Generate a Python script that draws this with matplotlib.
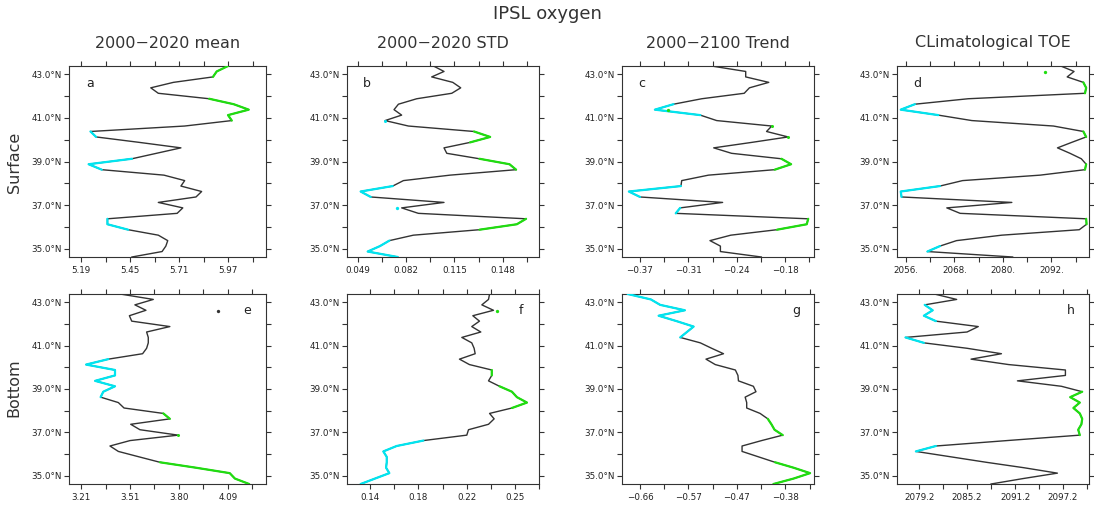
import numpy as np
import matplotlib.pyplot as plt

# latitude grid of the profiles (south -> north)
lat = [34.625, 34.875, 35.125, 35.375, 35.625, 35.875, 36.125, 36.375, 36.625,
       36.875, 37.125, 37.375, 37.625, 37.875, 38.125, 38.375, 38.625, 38.875,
       39.125, 39.375, 39.625, 39.875, 40.125, 40.375, 40.625, 40.875, 41.125,
       41.375, 41.625, 41.875, 42.125, 42.375, 42.625, 42.875, 43.125, 43.375]

# surface
surf_mean = [5.46, 5.62, 5.64, 5.65, 5.60, 5.44, 5.33, 5.33, 5.70, 5.73, 5.60, 5.80,
             5.83, 5.72, 5.74, 5.63, 5.30, 5.23, 5.46, 5.59, 5.72, 5.50, 5.27, 5.24,
             5.74, 5.99, 5.97, 6.08, 6.00, 5.87, 5.60, 5.56, 5.68, 5.89, 5.91, 5.97]
surf_std = [0.0763, 0.0558, 0.0642, 0.0706, 0.0870, 0.1321, 0.1576, 0.1639, 0.0904,
            0.0790, 0.1079, 0.0579, 0.0510, 0.0729, 0.0802, 0.1120, 0.1571, 0.1526,
            0.1321, 0.1098, 0.1079, 0.1257, 0.1394, 0.1284, 0.0836, 0.0677, 0.0790,
            0.0738, 0.0768, 0.0893, 0.1132, 0.1193, 0.1139, 0.0995, 0.1079, 0.1007]
surf_trend = [-0.209, -0.264, -0.264, -0.278, -0.250, -0.188, -0.148, -0.146, -0.324,
              -0.318, -0.261, -0.372, -0.387, -0.317, -0.316, -0.280, -0.191, -0.169,
              -0.182, -0.249, -0.273, -0.222, -0.173, -0.202, -0.195, -0.269, -0.291,
              -0.352, -0.327, -0.289, -0.232, -0.225, -0.199, -0.230, -0.230, -0.276]
surf_toe = [2082.4, 2061.3, 2064.4, 2068.5, 2079.7, 2098.9, 2100.7, 2100.6, 2069.4,
            2066.1, 2082.2, 2054.9, 2054.7, 2064.4, 2070.0, 2089.2, 2100.3, 2100.6,
            2099.4, 2096.6, 2093.5, 2097.0, 2100.6, 2099.9, 2092.5, 2072.3, 2064.0,
            2054.7, 2058.2, 2071.4, 2100.3, 2100.6, 2099.9, 2095.9, 2097.6, 2094.3]

# bottom
bot_mean = [4.218, 4.133, 4.102, 3.900, 3.685, 3.560, 3.436, 3.386, 3.506, 3.794,
            3.565, 3.510, 3.744, 3.705, 3.470, 3.436, 3.330, 3.346, 3.416, 3.297,
            3.416, 3.416, 3.243, 3.376, 3.581, 3.605, 3.615, 3.615, 3.605, 3.744,
            3.516, 3.502, 3.601, 3.535, 3.645, 3.446]
bot_std = [0.1359, 0.1468, 0.1578, 0.1553, 0.1558, 0.1558, 0.1532, 0.1634, 0.1838,
           0.2170, 0.2183, 0.2336, 0.2379, 0.2344, 0.2515, 0.2630, 0.2553, 0.2515,
           0.2420, 0.2336, 0.2361, 0.2361, 0.2190, 0.2114, 0.2234, 0.2226, 0.2208,
           0.2132, 0.2277, 0.2208, 0.2267, 0.2216, 0.2374, 0.2285, 0.2336, 0.2344]
bot_trend = [-0.401, -0.362, -0.330, -0.362, -0.398, -0.430, -0.462, -0.462, -0.424,
             -0.383, -0.399, -0.405, -0.412, -0.427, -0.453, -0.453, -0.456, -0.435,
             -0.440, -0.469, -0.470, -0.475, -0.514, -0.532, -0.498, -0.521, -0.543,
             -0.582, -0.569, -0.556, -0.589, -0.624, -0.573, -0.621, -0.639, -0.684]
bot_toe = [2088.2, 2092.2, 2096.5, 2092.3, 2087.6, 2083.2, 2078.8, 2081.3, 2090.2,
           2099.3, 2099.1, 2099.5, 2099.6, 2099.3, 2098.5, 2099.3, 2098.1, 2099.6,
           2097.0, 2091.5, 2097.5, 2097.5, 2090.4, 2085.7, 2089.5, 2085.2, 2079.8,
           2077.5, 2085.2, 2086.6, 2081.3, 2079.8, 2080.9, 2079.9, 2083.9, 2081.1]

# class of each point: k = normal, c = low (cyan), g = high (green)
surf_mean_cls = "kkkkkccckkkkkkkkccckkkcckgggggkkkggg"
surf_std_cls = "cccckgggkkkccckkgggkkgggkckkkkkkkkkk"
surf_trend_cls = "kkkkkgggcckccckkgggkkkgkgkccckkkkkkk"
surf_toe_cls = "kcckkkggkkkccckkggkkkkggkkccckgggkkk"
bot_mean_cls = "gggggkkkkgkkggkkcccccccckkkkkkkkkkkk"
bot_std_cls = "ccccccccckkkkkgggggkggkkkkkkkkkkkkkk"
bot_trend_cls = "gggggkkkkggggkkkkkkkkkkkkkkccccccccc"
bot_toe_cls = "kkkkkkcckgggggggggkkkkkkkkcckkcccckk"

# stray points
dot_panel = [1, 2, 3, 4, 5]
dot_x = [0.0756, -0.334, 2090.5, 4.033, 0.240]
dot_lat = [36.85, 41.38, 43.10, 42.58, 42.58]
dot_cls = ["c", "g", "g", "k", "g"]

col_titles = ["2000\u22122020 mean", "2000\u22122020 STD",
              "2000\u22122100 Trend", "CLimatological TOE"]
row_titles = ["Surface", "Bottom"]
letters = ["a", "b", "c", "d", "e", "f", "g", "h"]

tick_start = [5.19, 0.049, -0.372, 2056, 3.213, 0.143, -0.660, 2079.2]
tick_step = [0.13, 0.0165, 0.0325, 6, 0.14625, 0.0185, 0.047, 3]
tick_labels = [["5.19", "5.45", "5.71", "5.97"],
               ["0.049", "0.082", "0.115", "0.148"],
               ["\u22120.37", "\u22120.31", "\u22120.24", "\u22120.18"],
               ["2056.", "2068.", "2080.", "2092."],
               ["3.21", "3.51", "3.80", "4.09"],
               ["0.14", "0.18", "0.22", "0.25"],
               ["\u22120.66", "\u22120.57", "\u22120.47", "\u22120.38"],
               ["2079.2", "2085.2", "2091.2", "2097.2"]]
xlims = [(5.126, 6.170), (0.0415, 0.1730), (-0.3966, -0.1377), (2053.7, 2101.4),
         (3.141, 4.317), (0.1252, 0.2724), (-0.6956, -0.3216), (2076.4, 2100.5)]

series = [surf_mean, surf_std, surf_trend, surf_toe,
          bot_mean, bot_std, bot_trend, bot_toe]
classes = [surf_mean_cls, surf_std_cls, surf_trend_cls, surf_toe_cls,
           bot_mean_cls, bot_std_cls, bot_trend_cls, bot_toe_cls]

colors = {"k": "#333333", "c": "#00e5f0", "g": "#20dd10"}

W, H = 1094, 508
col_left = [69, 346.7, 621.7, 896.7]
col_width = [196.7, 192.7, 192.7, 192.7]
row_top = [66, 294]
row_height = [191, 190]

fig = plt.figure(figsize=(W / 100, H / 100), dpi=100)
lat_arr = np.array(lat)

for k in range(8):
    r, c = divmod(k, 4)
    ax = fig.add_axes([col_left[c] / W, 1 - (row_top[r] + row_height[r]) / H,
                       col_width[c] / W, row_height[r] / H])
    x = np.array(series[k])
    cls = np.array(list(classes[k]))

    ax.plot(x, lat_arr, color=colors["k"], lw=1.0, zorder=2)
    for ch in ["c", "g"]:
        m = cls == ch
        ax.plot(np.where(m, x, np.nan), lat_arr, color=colors[ch], lw=1.6,
                zorder=3, solid_capstyle="round")
        prev = np.r_[False, m[:-1]]
        nxt = np.r_[m[1:], False]
        iso = m & ~prev & ~nxt
        if iso.any():
            ax.plot(x[iso], lat_arr[iso], "o", ms=2.2, color=colors[ch],
                    mec="none", zorder=4)

    for i in range(len(dot_panel)):
        if dot_panel[i] == k:
            ax.plot(dot_x[i], dot_lat[i], "o", ms=2.4, color=colors[dot_cls[i]],
                    mec="none", zorder=4)

    ax.set_xlim(*xlims[k])
    ax.set_ylim(34.625, 43.375)

    xt = [tick_start[k] + i * tick_step[k] for i in range(8)]
    xl = []
    for lab in tick_labels[k]:
        xl += [lab, ""]
    ax.set_xticks(xt)
    ax.set_xticklabels(xl)
    ax.set_yticks([35, 36, 37, 38, 39, 40, 41, 42, 43])
    ax.set_yticklabels(["35.0°N", "", "37.0°N", "", "39.0°N", "", "41.0°N", "", "43.0°N"])
    ax.tick_params(direction="out", length=3.6, width=0.8, color="#333333",
                   top=True, right=True, labelsize=6.3, labelcolor="#222222")
    ax.tick_params(axis="x", pad=3)
    ax.tick_params(axis="y", pad=1.5)
    for sp in ax.spines.values():
        sp.set_linewidth(0.8)
        sp.set_color("#333333")

    if r == 0:
        ax.text(0.105, 0.91, letters[k], transform=ax.transAxes, fontsize=9,
                ha="center", va="center", color="#222222")
    else:
        ax.text(0.905, 0.912, letters[k], transform=ax.transAxes, fontsize=9,
                ha="center", va="center", color="#222222")

fig.text(0.5, 1 - 14 / H, "IPSL oxygen", ha="center", va="center",
         fontsize=13, color="#333333")
for c in range(4):
    cx = (col_left[c] + col_width[c] / 2) / W
    fig.text(cx, 1 - 43 / H, col_titles[c], ha="center", va="center",
             fontsize=11.5, color="#333333")
fig.text(14 / W, 1 - 162 / H, row_titles[0], rotation=90, ha="center",
         va="center", fontsize=11.5, color="#333333")
fig.text(14 / W, 1 - 388 / H, row_titles[1], rotation=90, ha="center",
         va="center", fontsize=11.5, color="#333333")

fig.savefig("out.png", dpi=100)
